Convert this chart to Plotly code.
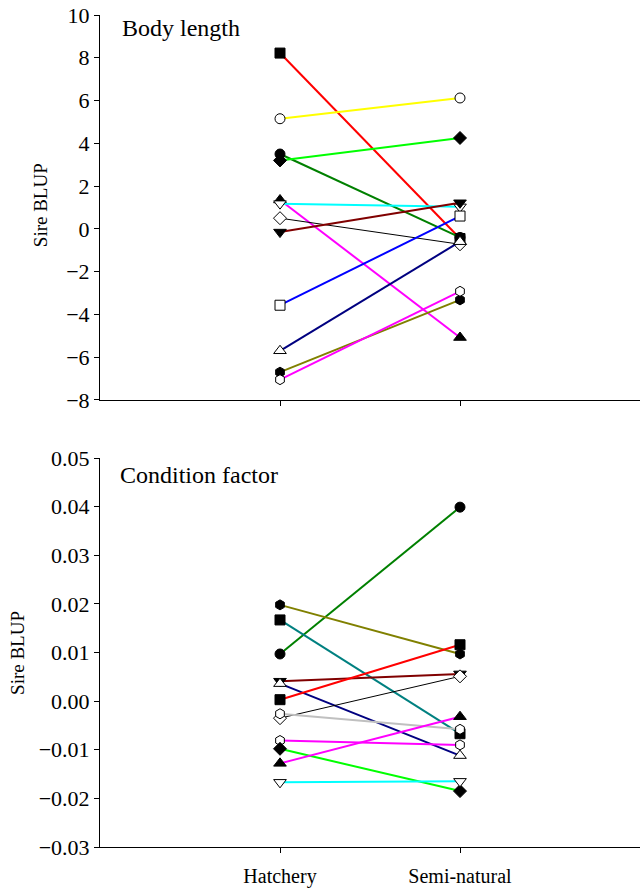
import plotly.graph_objects as go

groups = ["Hatchery", "Semi-natural"]
group_x = [1, 2]

# Body length (top panel)
bl_hatchery = [8.22, 5.15, 3.5, 3.2, 1.35, 1.18, 0.5, -0.15, -3.57, -5.7, -6.7, -7.05]
bl_semi = [-0.45, 6.12, -0.4, 4.25, -5.08, 1.03, -0.72, 1.22, 0.6, -0.6, -3.32, -2.92]
bl_colors = ["#ff0000", "#ffff00", "#008000", "#00ff00", "#ff00ff", "#00ffff",
             "#000000", "#800000", "#0000ff", "#000080", "#808000", "#ff00ff"]
bl_symbols = ["square", "circle-open", "circle", "diamond", "triangle-up", "triangle-down-open",
              "diamond-open", "triangle-down", "square-open", "triangle-up-open", "hexagon", "hexagon-open"]
bl_widths = [2, 2, 2, 2, 2, 2, 1, 2, 2, 2, 2, 2]

# Condition factor (bottom panel)
cf_hatchery = [0.0097, 0.0198, 0.0167, 0.0041, 0.0036, 0.0003, -0.0035, -0.0026, -0.0081, -0.0098, -0.0128, -0.0167]
cf_semi = [0.0399, 0.0097, -0.0067, 0.0056, -0.0112, 0.0116, 0.0051, -0.0058, -0.0090, -0.0185, -0.0032, -0.0165]
cf_colors = ["#008000", "#808000", "#008080", "#800000", "#000080", "#ff0000",
             "#000000", "#c0c0c0", "#ff00ff", "#00ff00", "#ff00ff", "#00ffff"]
cf_symbols = ["circle", "hexagon", "square", "triangle-down", "triangle-up-open", "square",
              "diamond-open", "hexagon-open", "hexagon-open", "diamond", "triangle-up", "triangle-down-open"]
cf_widths = [2, 2, 2, 2, 2, 2, 1, 2, 2, 2, 2, 2]

y_ticks_top = [-8, -6, -4, -2, 0, 2, 4, 6, 8, 10]
y_ticks_bot = [-0.03, -0.02, -0.01, 0.0, 0.01, 0.02, 0.03, 0.04, 0.05]

FONT = "Liberation Serif"

fig = go.Figure()


def add_series(h, s, colors, symbols, widths, xa, ya):
    for i in range(len(h)):
        sym = symbols[i]
        is_open = sym.endswith("-open")
        base = sym.replace("-open", "")
        fig.add_trace(go.Scatter(
            x=group_x, y=[h[i], s[i]], mode="lines+markers",
            xaxis=xa, yaxis=ya, showlegend=False,
            line=dict(color=colors[i], width=widths[i]),
            marker=dict(symbol=base, size=10 if base not in ("triangle-up", "triangle-down") else 11,
                        color="white" if is_open else "black",
                        line=dict(color="black", width=1)),
        ))


add_series(bl_hatchery, bl_semi, bl_colors, bl_symbols, bl_widths, "x", "y")
add_series(cf_hatchery, cf_semi, cf_colors, cf_symbols, cf_widths, "x2", "y2")

axis_common = dict(showline=True, linecolor="black", linewidth=1, ticks="outside",
                   ticklen=5, tickcolor="black", showgrid=False, zeroline=False)
yfont = dict(family=FONT, size=22, color="black")
xfont = dict(family=FONT, size=20, color="black")

fig.update_layout(
    width=640, height=890,
    margin=dict(l=100, r=0, t=15, b=43),
    paper_bgcolor="white", plot_bgcolor="white",
    xaxis=dict(domain=[0, 1], range=[0, 3], anchor="y", tickvals=group_x,
               showticklabels=False, tickfont=xfont, **axis_common),
    yaxis=dict(domain=[0.5373, 1.0], range=[-8, 10], anchor="x", tickvals=y_ticks_top,
               ticktext=[("\u2212" + str(abs(v))) if v < 0 else str(v) for v in y_ticks_top],
               tickfont=yfont, **axis_common),
    xaxis2=dict(domain=[0, 1], range=[0, 3], anchor="y2", tickvals=group_x,
                ticktext=groups, tickfont=xfont, ticklabelstandoff=6, **axis_common),
    yaxis2=dict(domain=[0, 0.4675], range=[-0.03, 0.05], anchor="x2", tickvals=y_ticks_bot,
                ticktext=[("\u2212" + f"{abs(v):.2f}") if v < 0 else f"{v:.2f}" for v in y_ticks_bot],
                tickfont=yfont, **axis_common),
    annotations=[
        dict(text="Body length", xref="x domain", yref="y domain", x=0.037, y=0.966,
             xanchor="left", yanchor="middle", showarrow=False,
             font=dict(family=FONT, size=24, color="black")),
        dict(text="Condition factor", xref="x2 domain", yref="y2 domain", x=0.033, y=0.956,
             xanchor="left", yanchor="middle", showarrow=False,
             font=dict(family=FONT, size=24, color="black")),
        dict(text="Sire BLUP", xref="paper", yref="y domain", x=-60 / 540, y=0.506,
             xanchor="center", yanchor="middle", textangle=-90, showarrow=False,
             font=dict(family=FONT, size=19, color="black")),
        dict(text="Sire BLUP", xref="paper", yref="y2 domain", x=-82 / 540, y=0.499,
             xanchor="center", yanchor="middle", textangle=-90, showarrow=False,
             font=dict(family=FONT, size=19, color="black")),
    ],
)

fig.write_html("out.html")
